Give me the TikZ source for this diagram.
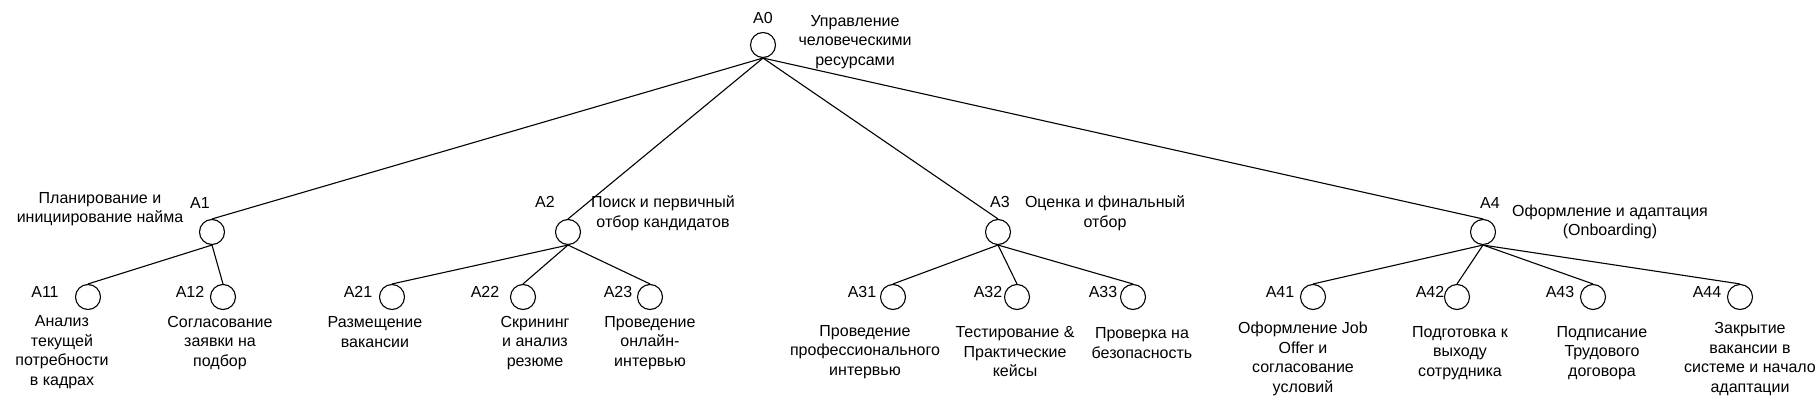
\documentclass[tikz,border=0pt]{standalone}
\usepackage{fontspec}
\setmainfont{Liberation Sans}
\begin{document}
\begin{tikzpicture}[x=1pt,y=-1pt,
  proc/.style={draw, circle, minimum size=25pt, inner sep=0pt, line width=1.1pt},
  code/.style={font=\fontsize{16}{19.5}\selectfont, inner sep=0pt},
  desc/.style={font=\fontsize{16}{19.5}\selectfont, inner sep=0pt, align=center},
  link/.style={line width=1.1pt}]
\useasboundingbox (0,0) rectangle (1820,403);
% circles
\node[proc] (A0) at (763,45) {};
\node[proc] (A1) at (212,232) {};
\node[proc] (A2) at (568,232) {};
\node[proc] (A3) at (998,232) {};
\node[proc] (A4) at (1483,232) {};
\node[proc] (A11) at (88,297) {};
\node[proc] (A12) at (223,297) {};
\node[proc] (A21) at (392,297) {};
\node[proc] (A22) at (523,297) {};
\node[proc] (A23) at (650,297) {};
\node[proc] (A31) at (893,297) {};
\node[proc] (A32) at (1017,297) {};
\node[proc] (A33) at (1133,297) {};
\node[proc] (A41) at (1313,297) {};
\node[proc] (A42) at (1457,297) {};
\node[proc] (A43) at (1593,297) {};
\node[proc] (A44) at (1740,297) {};
% codes
\node[code] (cA0) at (763,18) {A0};
\node[code] (cA1) at (200,203) {A1};
\node[code] (cA2) at (545,202) {A2};
\node[code] (cA3) at (1000,202) {A3};
\node[code] (cA4) at (1490,203) {A4};
\node[code] (cA11) at (45,292) {A11};
\node[code] (cA12) at (190,292) {A12};
\node[code] (cA21) at (358,292) {A21};
\node[code] (cA22) at (485,292) {A22};
\node[code] (cA23) at (618,292) {A23};
\node[code] (cA31) at (862,292) {A31};
\node[code] (cA32) at (988,292) {A32};
\node[code] (cA33) at (1103,292) {A33};
\node[code] (cA41) at (1280,292) {A41};
\node[code] (cA42) at (1430,292) {A42};
\node[code] (cA43) at (1560,292) {A43};
\node[code] (cA44) at (1707,292) {A44};
% descriptions
\node[desc] (dA0) at (855,42) {Управление\\человеческими\\ресурсами};
\node[desc] (dA1) at (100,209) {Планирование и\\инициирование найма};
\node[desc] (dA2) at (663,213) {Поиск и первичный\\отбор кандидатов};
\node[desc] (dA3) at (1105,213) {Оценка и финальный\\отбор};
\node[desc] (dA4) at (1610,222) {Оформление и адаптация\\(Onboarding)};
\node[desc] (dA11) at (62,352) {Анализ\\текущей\\потребности\\в кадрах};
\node[desc] (dA12) at (220,343) {Согласование\\заявки на\\подбор};
\node[desc] (dA21) at (375,332) {Размещение\\вакансии};
\node[desc] (dA22) at (535,343) {Скрининг\\и анализ\\резюме};
\node[desc] (dA23) at (650,343) {Проведение\\онлайн-\\интервью};
\node[desc] (dA31) at (865,352) {Проведение\\профессионального\\интервью};
\node[desc] (dA32) at (1015,352) {Тестирование \&\\Практические\\кейсы};
\node[desc] (dA33) at (1142,343) {Проверка на\\безопасность};
\node[desc] (dA41) at (1303,359) {Оформление Job\\Offer и\\согласование\\условий};
\node[desc] (dA42) at (1460,353) {Подготовка к\\выходу\\сотрудника};
\node[desc] (dA43) at (1602,353) {Подписание\\Трудового\\договора};
\node[desc] (dA44) at (1750,359) {Закрытие\\вакансии в\\системе и начало\\адаптации};
% connectors
\draw[link] (A0.south) -- (A1.north);
\draw[link] (A0.south) -- (A2.north);
\draw[link] (A0.south) -- (A3.north);
\draw[link] (A0.south) -- (A4.north);
\draw[link] (A1.south) -- (A11.north);
\draw[link] (A1.south) -- (A12.north);
\draw[link] (A2.south) -- (A21.north);
\draw[link] (A2.south) -- (A22.north);
\draw[link] (A2.south) -- (A23.north);
\draw[link] (A3.south) -- (A31.north);
\draw[link] (A3.south) -- (A32.north);
\draw[link] (A3.south) -- (A33.north);
\draw[link] (A4.south) -- (A41.north);
\draw[link] (A4.south) -- (A42.north);
\draw[link] (A4.south) -- (A43.north);
\draw[link] (A4.south) -- (A44.north);
\end{tikzpicture}
\end{document}
